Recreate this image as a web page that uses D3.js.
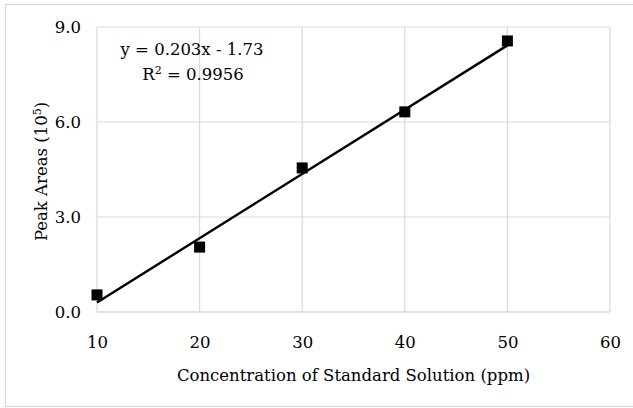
<!DOCTYPE html>
<html>
<head>
<meta charset="utf-8">
<script src="https://cdn.jsdelivr.net/npm/d3@7"></script>
<style>
  body { margin: 0; background: #fff; }
  text { font-family: "DejaVu Serif", serif; fill: #000; }
</style>
</head>
<body>
<div id="chart"></div>
<script>
// Data.
const concentrations = [10, 20, 30, 40, 50];
const peakAreas = [0.54, 2.05, 4.55, 6.32, 8.56];
const xTicks = [10, 20, 30, 40, 50, 60];
const yTicks = [0, 3, 6, 9];
// Trendline as printed on the chart.
const slope = 0.203, intercept = -1.73;
const equationText = 'y = 0.203x - 1.73';

const width = 633, height = 408;
const margin = {top: 27, right: 23, bottom: 96, left: 97};
const fontSize = '16.5px';

const svg = d3.select('#chart').append('svg')
    .attr('width', width)
    .attr('height', height);

// Outer chart border.
svg.append('rect')
    .attr('x', 5.5).attr('y', 4.5)
    .attr('width', width)
    .attr('height', height - 6)
    .attr('fill', 'none')
    .attr('stroke', '#d9d9d9')
    .attr('stroke-width', 1.2);

const x = d3.scaleLinear().domain([10, 60]).range([margin.left, width - margin.right]);
const y = d3.scaleLinear().domain([0, 9]).range([height - margin.bottom, margin.top]);

// Gridlines.
const grid = svg.append('g');
grid.selectAll('line.v')
    .data(xTicks)
    .enter().append('line')
    .attr('class', 'v')
    .attr('x1', d => x(d)).attr('x2', d => x(d))
    .attr('y1', y(0)).attr('y2', y(9))
    .attr('stroke', '#d9d9d9').attr('stroke-width', 1.2);
grid.selectAll('line.h')
    .data(yTicks)
    .enter().append('line')
    .attr('class', 'h')
    .attr('x1', x(10)).attr('x2', x(60))
    .attr('y1', d => y(d)).attr('y2', d => y(d))
    .attr('stroke', '#d9d9d9').attr('stroke-width', d => d === 0 ? 1.6 : 1.2);

// Axes (labels only, lines come from the grid).
const xAxis = svg.append('g')
    .attr('transform', 'translate(0,' + (y(0) + 16) + ')')
    .call(d3.axisBottom(x).tickValues(xTicks).tickSize(0).tickPadding(8));
const yAxis = svg.append('g')
    .attr('transform', 'translate(' + (x(10) - 16) + ',0)')
    .call(d3.axisLeft(y).tickValues(yTicks).tickSize(0).tickPadding(0).tickFormat(d3.format('.1f')));
[xAxis, yAxis].forEach(function (a) {
    a.select('.domain').remove();
    a.selectAll('text').style('font-family', '"DejaVu Serif", serif').style('font-size', fontSize).attr('fill', '#000');
});

// Axis titles.
svg.append('text')
    .attr('x', (x(10) + x(60)) / 2 + 0)
    .attr('y', 381)
    .attr('text-anchor', 'middle')
    .style('font-size', fontSize)
    .text('Concentration of Standard Solution (ppm)');
const yTitle = svg.append('text')
    .attr('transform', 'translate(47,' + ((y(0) + y(9)) / 2 + 2) + ')rotate(-90)')
    .attr('text-anchor', 'middle')
    .style('font-size', fontSize);
yTitle.append('tspan').text('Peak Areas (10');
yTitle.append('tspan').attr('dy', -6).style('font-size', '11px').text('5');
yTitle.append('tspan').attr('dy', 6).text(')');

// Trendline.
svg.append('line')
    .attr('x1', x(10)).attr('y1', y(slope * 10 + intercept))
    .attr('x2', x(50)).attr('y2', y(slope * 50 + intercept))
    .attr('stroke', '#000').attr('stroke-width', 2.4);

// Markers.
const size = 11;
svg.selectAll('rect.pt')
    .data(concentrations)
    .enter().append('rect')
    .attr('class', 'pt')
    .attr('x', d => x(d) - size / 2)
    .attr('y', (d, i) => y(peakAreas[i]) - size / 2)
    .attr('width', size).attr('height', size)
    .attr('fill', '#000');

// Equation label.
svg.append('text')
    .attr('x', 192).attr('y', 55)
    .attr('text-anchor', 'middle')
    .style('font-size', '16.5px')
    .text(equationText);
const r2 = svg.append('text')
    .attr('x', 193).attr('y', 80)
    .attr('text-anchor', 'middle')
    .style('font-size', '16.5px');
r2.append('tspan').text('R');
r2.append('tspan').attr('dy', -6).style('font-size', '11px').text('2');
r2.append('tspan').attr('dy', 6).text(' = 0.9956');
</script>
</body>
</html>
